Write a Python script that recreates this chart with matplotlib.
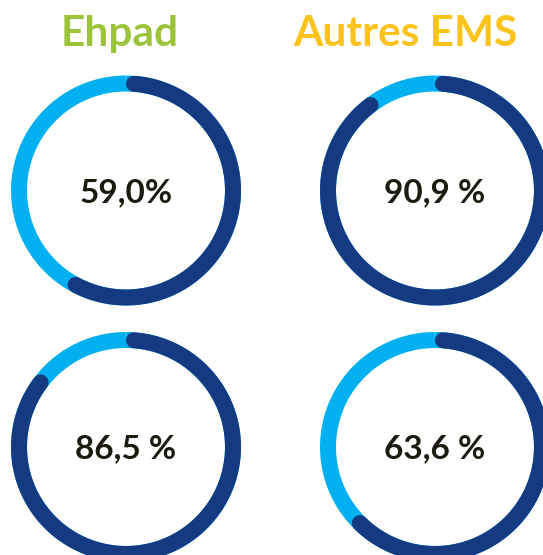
import numpy as np
import matplotlib

matplotlib.use("Agg")
import matplotlib.pyplot as plt

# donnees
groups = ["Ehpad", "Autres EMS"]
values = [59.0, 90.9, 86.5, 63.6]          # ordre: Ehpad haut, Autres haut, Ehpad bas, Autres bas
value_labels = ["59,0%", "90,9 %", "86,5 %", "63,6 %"]

DARK = "#153a82"
LIGHT = "#00b0f0"
GROUP_COLORS = ["#9cc43b", "#fcc31c"]
TEXT = "#1d1a10"

W, H = 543, 555
fig = plt.figure(figsize=(W / 100, H / 100), dpi=100)
ax = fig.add_axes([0, 0, 1, 1])
ax.set_xlim(0, W)
ax.set_ylim(H, 0)
ax.set_aspect("equal")
ax.axis("off")

centers = [(126, 190.5), (435, 190.5), (126, 447), (435, 447)]
r = 107
lw_px = 16
lw = lw_px * 72 / 100
cap = np.degrees(lw_px / 2 / r)

for (cx, cy), v, lab in zip(centers, values, value_labels):
    # fond clair sur tout le cercle, puis arc fonce pour la part
    t = np.linspace(0, 360, 400)
    ax.plot(cx + r * np.sin(np.radians(t)), cy - r * np.cos(np.radians(t)),
            color=LIGHT, lw=lw, solid_capstyle="butt")
    t = np.linspace(cap, v / 100 * 360 - cap, 400)
    ax.plot(cx + r * np.sin(np.radians(t)), cy - r * np.cos(np.radians(t)),
            color=DARK, lw=lw, solid_capstyle="round")
    ax.text(cx, cy + 2, lab, ha="center", va="center", fontsize=24,
            fontweight="bold", family="Lato", color=TEXT)

for x, g, c in zip([120, 405], groups, GROUP_COLORS):
    ax.text(x, 34, g, ha="center", va="center", fontsize=30.5,
            fontweight="bold", family="Lato", color=c)

fig.savefig("out.png", dpi=100)
